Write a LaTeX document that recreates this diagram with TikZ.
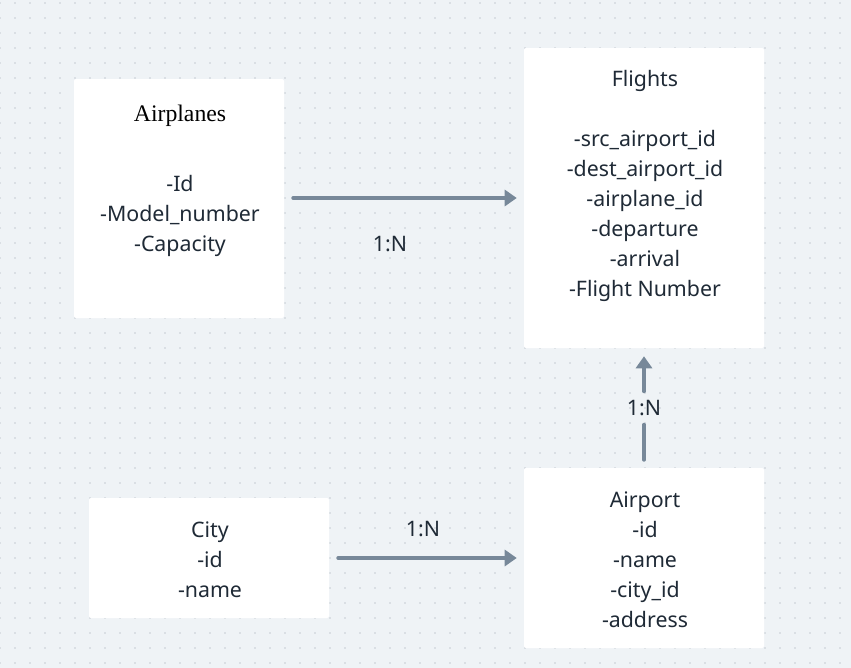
\documentclass[tikz,border=0pt]{standalone}
\usepackage{fontspec}
\setmainfont{Noto Sans}
\newfontfamily\titleserif{Liberation Serif}
\usetikzlibrary{arrows.meta}
\definecolor{bgc}{HTML}{EFF3F6}
\definecolor{dotc}{HTML}{C6CCD3}
\definecolor{arrc}{HTML}{778899}
\definecolor{txtc}{HTML}{1F2A36}
\tikzset{
  box/.style={fill=white, rounded corners=1.5pt, inner sep=0pt},
  body/.style={text=txtc, align=center, inner sep=0pt, font=\fontsize{16}{22.5}\selectfont},
  ttl/.style={text=black, inner sep=0pt, font=\titleserif\fontsize{17.8}{20}\selectfont},
  lbl/.style={text=txtc, inner sep=0pt, font=\fontsize{16}{18}\selectfont},
  conn/.style={draw=arrc, line width=3pt, line cap=round, -{Triangle[length=9pt,width=12pt]}},
  seg/.style={draw=arrc, line width=3pt, line cap=round}
}
\begin{document}
\begin{tikzpicture}[x=0.75pt,y=-0.75pt]
\fill[bgc] (0,0) rectangle (851,668);
\useasboundingbox (0,0) rectangle (851,668);
\foreach \i in {0,...,56} {\foreach \j in {0,...,44} {\fill[dotc] (\i*15, \j*15+3) circle[radius=0.6pt];}}
% boxes
\node[box, minimum width=157.5pt, minimum height=179.25pt] (airplanes) at (179,198.5) {};
\node[box, minimum width=180pt, minimum height=225pt] (flights) at (644,198) {};
\node[box, minimum width=180pt, minimum height=90pt] (city) at (209,558) {};
\node[box, minimum width=180pt, minimum height=135pt] (airport) at (644,558) {};
% texts
\node[ttl] (airplanesT) at (180,116) {Airplanes};
\node[body] (airplanesB) at (180,216) {-Id\\-Model\_number\\-Capacity};
\node[body] (flightsT) at (645,81) {Flights};
\node[body] (flightsB) at (645,216) {-src\_airport\_id\\-dest\_airport\_id\\-airplane\_id\\-departure\\-arrival\\-Flight Number};
\node[body] (cityB) at (210,560) {City\\-id\\-name};
\node[body] (airportB) at (645,560) {Airport\\-id\\-name\\-city\_id\\-address};
% labels
\node[lbl] (l1) at (390,244) {1:N};
\node[lbl] (l2) at (423,529) {1:N};
\node[lbl, minimum height=24.75pt] (l3) at (644,408) {1:N};
% connectors
\draw[conn, shorten <=6.75pt, shorten >=5.25pt] (airplanes.east |- flights.west) -- (flights.west);
\draw[conn, shorten <=6.75pt, shorten >=5.25pt] (city.east) -- (airport.west);
\draw[seg, shorten <=6pt] (airport.north) -- (l3.south);
\draw[conn, shorten >=6pt] (l3.north) -- (flights.south);
\end{tikzpicture}
\end{document}
